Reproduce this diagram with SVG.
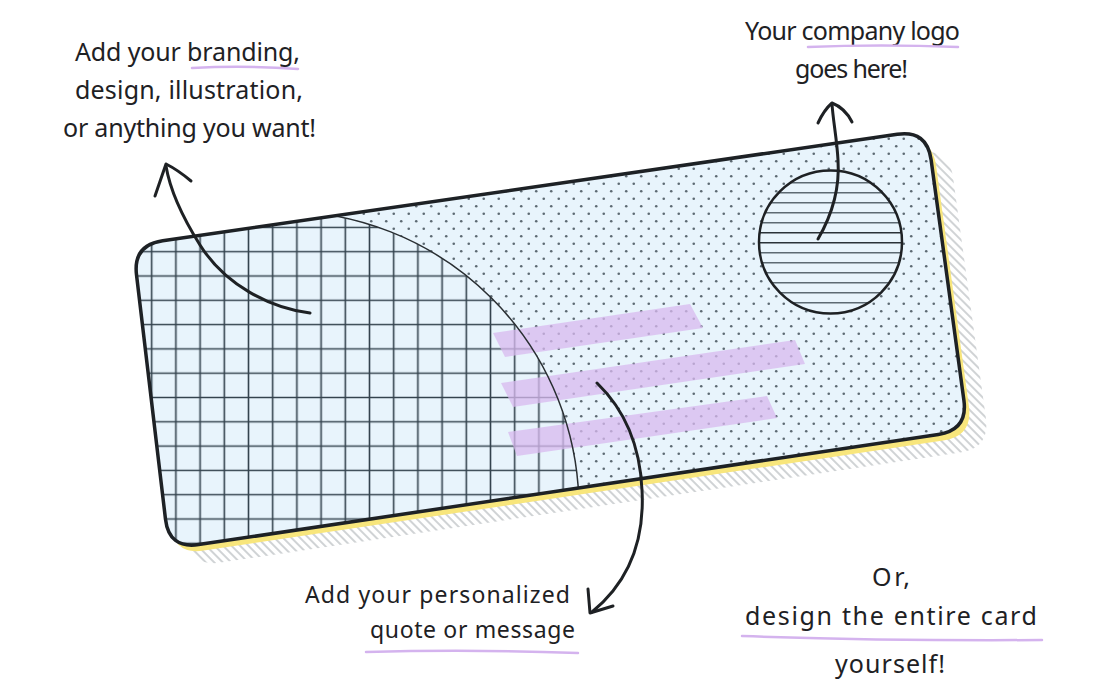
<svg xmlns="http://www.w3.org/2000/svg" width="1120" height="700" viewBox="0 0 1120 700">
<style>
.txt{font-family:"Noto Sans","DejaVu Sans",sans-serif;font-size:25px;fill:#1e2124}
.sm{font-size:23px}
.ul{fill:none;stroke:#d4b3ee;stroke-width:2.5;stroke-linecap:round}
.arr{fill:none;stroke:#1e2124;stroke-width:3;stroke-linecap:round;stroke-linejoin:round}
.bar{fill:#d8b9ef;opacity:0.75}
</style>
<defs>
<path id="cardShape" d="M162.7,240.7 L897.3,134.3 Q927,130 931.1,159.7 L963.9,400.3 Q968,430 938.3,434.4 L198.7,544.6 Q169,549 165.5,519.2 L136.5,274.8 Q133,245 162.7,240.7 Z"/>
<clipPath id="cardClip"><path d="M162.7,240.7 L897.3,134.3 Q927,130 931.1,159.7 L963.9,400.3 Q968,430 938.3,434.4 L198.7,544.6 Q169,549 165.5,519.2 L136.5,274.8 Q133,245 162.7,240.7 Z"/></clipPath>
<clipPath id="logoClip"><circle cx="830.5" cy="242" r="71.5"/></clipPath>
<pattern id="hatch" patternUnits="userSpaceOnUse" width="6" height="6" patternTransform="rotate(-45)">
<line x1="3" y1="0" x2="3" y2="6" stroke="#c4c8cb" stroke-width="1.6"/>
</pattern>
<pattern id="dots" patternUnits="userSpaceOnUse" width="15" height="15">
<circle cx="3.75" cy="3.75" r="1.3" fill="#5d6a73"/>
<circle cx="11.25" cy="11.25" r="1.3" fill="#5d6a73"/>
</pattern>
<pattern id="grid" patternUnits="userSpaceOnUse" x="139.6" y="239.55" width="24.2" height="24.3">
<path d="M12.1 0V24.3M0 12.15H24.2" stroke="#34434e" stroke-width="1.6" fill="none"/>
</pattern>
</defs>

<g id="card">
<use href="#cardShape" transform="translate(22,18)" fill="url(#hatch)"/>
<use href="#cardShape" transform="translate(5,6)" fill="#f8e67c"/>
<use href="#cardShape" fill="#e8f4fc"/>
<g clip-path="url(#cardClip)">
<rect x="120" y="120" width="860" height="440" fill="url(#dots)"/>
<circle cx="281" cy="509" r="298" fill="#e8f4fc"/>
<circle cx="281" cy="509" r="298" fill="url(#grid)"/>
</g>
</g>

<g id="message-bars">
<polygon class="bar" points="493,333 690,304 703,328 505,357"/>
<polygon class="bar" points="501,383 795,340 805,364 513,407"/>
<polygon class="bar" points="508,432 767,396 777,418 517,456"/>
</g>

<g id="arc" clip-path="url(#cardClip)">
<circle cx="281" cy="509" r="298" fill="none" stroke="#2a2f33" stroke-width="1.5"/>
</g>

<g id="logo">
<circle cx="830.5" cy="242" r="71.5" fill="#e8f4fc"/>
<g clip-path="url(#logoClip)" stroke="#5d6a73" stroke-width="1.5">
<line x1="750" y1="182.7" x2="910" y2="182.7"/>
<line x1="750" y1="192.7" x2="910" y2="192.7"/>
<line x1="750" y1="202.7" x2="910" y2="202.7"/>
<line x1="750" y1="212.7" x2="910" y2="212.7"/>
<line x1="750" y1="222.7" x2="910" y2="222.7"/>
<line x1="750" y1="232.7" x2="910" y2="232.7" stroke="#2a3238"/>
<line x1="750" y1="242.7" x2="910" y2="242.7" stroke="#2a3238"/>
<line x1="750" y1="252.7" x2="910" y2="252.7"/>
<line x1="750" y1="262.7" x2="910" y2="262.7"/>
<line x1="750" y1="272.7" x2="910" y2="272.7"/>
<line x1="750" y1="282.7" x2="910" y2="282.7"/>
<line x1="750" y1="292.7" x2="910" y2="292.7"/>
<line x1="750" y1="302.7" x2="910" y2="302.7"/>
</g>
<circle cx="830.5" cy="242" r="71.5" fill="none" stroke="#1e2124" stroke-width="2.5"/>
</g>

<g id="card-outline">
<use href="#cardShape" fill="none" stroke="#1d2125" stroke-width="3.5"/>
</g>

<g id="connectors">
<path class="arr" d="M310,313 C270,308 225,285 200,245 C183,218 170,190 166,166"/>
<path class="arr" d="M155,196 L166,164 Q178,170 191,181"/>
<path class="arr" d="M818,239 C832,215 840,190 838,160 C837,140 833,120 832,104"/>
<path class="arr" d="M818,123 Q824,110 832,103 Q845,108 852,122"/>
<path class="arr" d="M597,383 C625,410 640,445 642,490 C645,545 625,585 592,612"/>
<path class="arr" d="M588,589 L590,613 L613,606"/>
</g>

<g id="note-branding">
<text class="txt" x="75" y="61" textLength="225" lengthAdjust="spacing">Add your branding,</text>
<text class="txt" x="75" y="99" textLength="228" lengthAdjust="spacing">design, illustration,</text>
<text class="txt" x="63" y="137" textLength="253" lengthAdjust="spacing">or anything you want!</text>
<path class="ul" d="M192,68 Q245,65 298,69"/>
</g>

<g id="note-logo">
<text class="txt" x="745" y="40" textLength="215" lengthAdjust="spacing">Your company logo</text>
<text class="txt" x="795" y="78" textLength="113" lengthAdjust="spacing">goes here!</text>
<path class="ul" d="M808,47 Q880,44 958,47"/>
</g>

<g id="note-message">
<text class="txt sm" x="305" y="603" textLength="265" lengthAdjust="spacing">Add your personalized</text>
<text class="txt sm" x="370" y="638" textLength="205" lengthAdjust="spacing">quote or message</text>
<path class="ul" d="M366,652 Q470,649 578,653"/>
</g>

<g id="note-card">
<text class="txt" x="872" y="586" textLength="38" lengthAdjust="spacing">Or,</text>
<text class="txt" x="745" y="625" textLength="292" lengthAdjust="spacing">design the entire card</text>
<text class="txt" x="835" y="673" textLength="110" lengthAdjust="spacing">yourself!</text>
<path class="ul" d="M742,636 Q890,641 1042,640"/>
</g>
</svg>
